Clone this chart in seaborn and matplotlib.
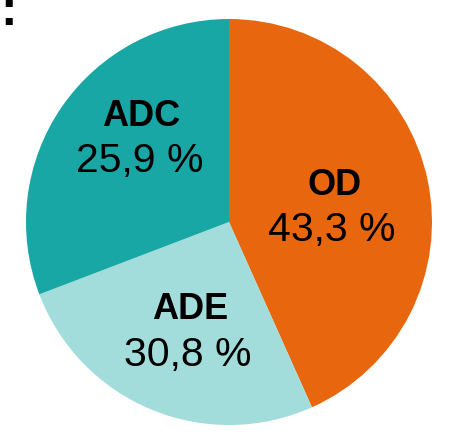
import matplotlib
matplotlib.use("Agg")
import matplotlib.pyplot as plt
import seaborn as sns

# wedges as drawn in the picture (clockwise from 12 o'clock)
groups = ["OD", "ADE", "ADC"]
shares_drawn = [43.3, 25.9, 30.8]
# percentages as printed on the chart
pct_text = ["43,3 %", "30,8 %", "25,9 %"]
colors = ["#E8670E", "#A2DCDB", "#19A7A6"]

W, H = 462, 432

sns.set_theme(style="white")
plt.rcParams['font.family'] = ['Liberation Sans', 'DejaVu Sans']

fig = plt.figure(figsize=(W / 100, H / 100), dpi=100)
ax = fig.add_axes([0, 0, 1, 1])

ax.pie(shares_drawn, colors=sns.color_palette(colors), startangle=90,
       counterclock=False, center=(229, H - 222), radius=203,
       wedgeprops=dict(linewidth=0, antialiased=True), frame=False)

ax.set_xlim(0, W)
ax.set_ylim(0, H)
ax.set_aspect('auto')
ax.axis('off')

# label anchors in pixels (x centre, name baseline, pct x, pct baseline)
label_pos = {
    "OD": (335, 195, 332, 241),
    "ADE": (190, 319, 188, 366),
    "ADC": (141, 126, 140, 172),
}
for g, p in zip(groups, pct_text):
    x1, y1, x2, y2 = label_pos[g]
    ax.text(x1, H - y1, g, ha='center', va='baseline', fontsize=26,
            fontweight='bold', color='black')
    ax.text(x2, H - y2, p, ha='center', va='baseline', fontsize=29.5,
            color='black')

# remnant of a cropped title above the chart
ax.text(0, H - 25, ":", ha='left', va='baseline', fontsize=36,
        fontweight='bold', color='black')

fig.savefig("out.png", dpi=100)
